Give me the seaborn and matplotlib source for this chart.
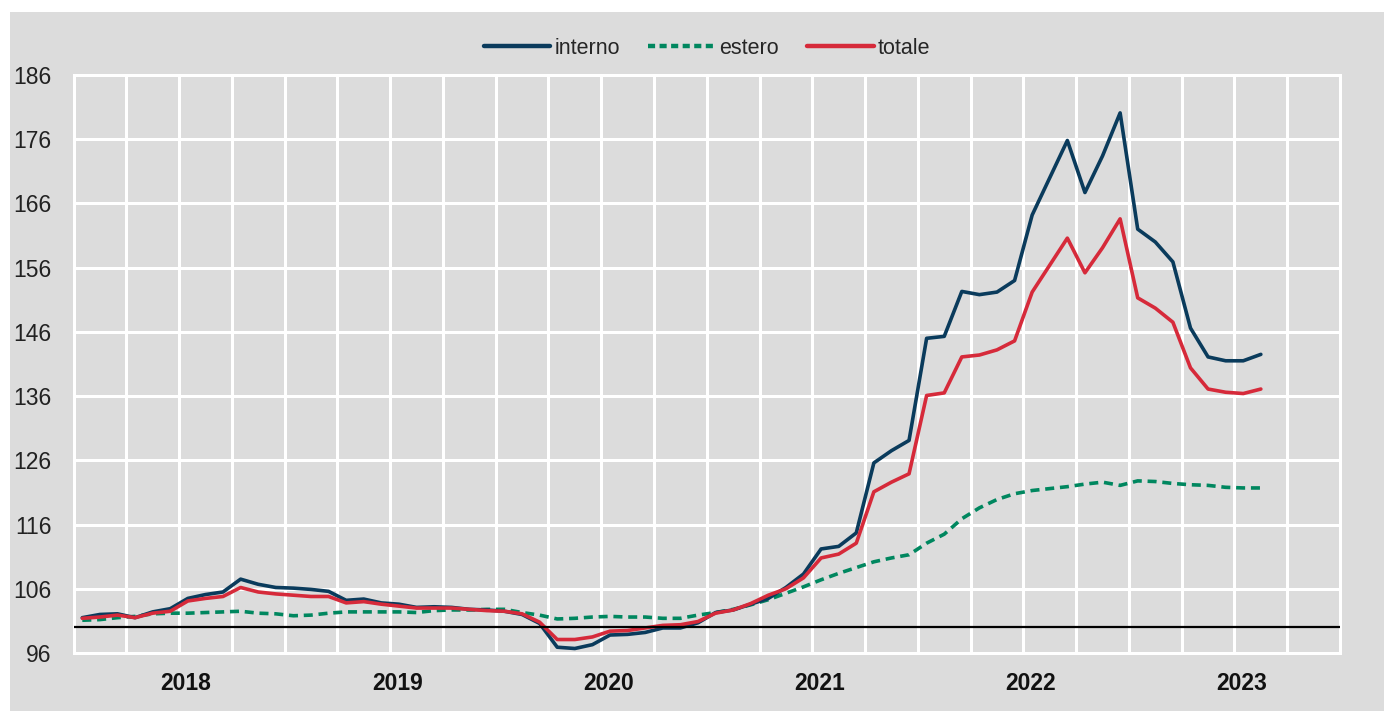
import matplotlib
matplotlib.use("Agg")
import matplotlib.pyplot as plt
from matplotlib.patches import Rectangle
from matplotlib.lines import Line2D
import numpy as np
import pandas as pd
import seaborn as sns

# ---- data (monthly index, Jan 2018 - Aug 2023) ----
interno = [101.5, 102.0, 102.1, 101.5, 102.4, 102.9, 104.5, 105.1, 105.5, 107.5,
           106.7, 106.2, 106.1, 105.9, 105.6, 104.2, 104.4, 103.8, 103.6, 103.1,
           103.2, 103.1, 102.8, 102.7, 102.5, 102.0, 100.6, 96.9, 96.7, 97.3,
           98.8, 98.9, 99.2, 99.9, 99.9, 100.7, 102.3, 102.7, 103.6, 104.5,
           106.2, 108.3, 112.2, 112.6, 114.7, 125.6, 127.5, 129.1, 145.0, 145.3,
           152.3, 151.8, 152.2, 154.0, 164.2, 170.0, 175.8, 167.7, 173.4, 180.1,
           162.0, 160.0, 156.9, 146.6, 142.1, 141.5, 141.5, 142.5]
estero = [101.1, 101.2, 101.5, 101.7, 102.1, 102.2, 102.2, 102.3, 102.4, 102.5,
          102.2, 102.1, 101.8, 101.9, 102.2, 102.4, 102.4, 102.4, 102.4, 102.3,
          102.6, 102.7, 102.7, 102.8, 102.8, 102.3, 101.9, 101.3, 101.4, 101.6,
          101.7, 101.6, 101.6, 101.4, 101.4, 101.9, 102.3, 102.8, 103.5, 104.3,
          105.3, 106.3, 107.4, 108.4, 109.3, 110.2, 110.8, 111.3, 113.1, 114.5,
          116.9, 118.6, 119.9, 120.8, 121.3, 121.6, 121.9, 122.3, 122.6, 122.1,
          122.8, 122.7, 122.4, 122.2, 122.1, 121.8, 121.7, 121.7]
totale = [101.4, 101.6, 101.9, 101.5, 102.2, 102.5, 104.1, 104.5, 104.8, 106.2,
          105.5, 105.2, 105.0, 104.8, 104.8, 103.8, 104.0, 103.6, 103.3, 103.0,
          103.0, 103.0, 102.8, 102.6, 102.5, 102.1, 100.8, 98.1, 98.1, 98.5,
          99.4, 99.5, 99.9, 100.3, 100.4, 100.9, 102.2, 102.7, 103.7, 105.0,
          106.0, 107.7, 110.8, 111.4, 113.1, 121.1, 122.6, 123.9, 136.1, 136.5,
          142.1, 142.4, 143.2, 144.6, 152.2, 156.4, 160.6, 155.2, 159.1, 163.6,
          151.3, 149.7, 147.5, 140.4, 137.1, 136.6, 136.4, 137.1]
years = ["2018", "2019", "2020", "2021", "2022", "2023"]
y_ticks = [96, 106, 116, 126, 136, 146, 156, 166, 176, 186]
series_names = ["interno", "estero", "totale"]
colors = {"interno": "#0A3B5C", "estero": "#00875F", "totale": "#D62A3A"}

# ---- build frame ----
n = len(interno)
xpos = np.arange(n) + 0.5  # month centres; axis unit = 1 month from Jan 2018
df = pd.DataFrame({"x": np.tile(xpos, 3),
                   "value": interno + estero + totale,
                   "serie": np.repeat(series_names, n)})

sns.set_theme(style="white")
plt.rcParams["font.family"] = ["Liberation Sans Narrow", "Liberation Sans", "DejaVu Sans"]

W, H = 1384, 711
fig = plt.figure(figsize=(W / 100, H / 100), dpi=100, facecolor="white")
panel_color = "#DCDCDC"
fig.patches.append(Rectangle((10 / W, 0), 1 - 10 / W, 1 - 12 / H,
                             transform=fig.transFigure, facecolor=panel_color,
                             edgecolor="none", zorder=-10))

ax = fig.add_axes([73.5 / W, 1 - 653 / H, (1340 - 73.5) / W, (653 - 75) / H])
ax.set_facecolor(panel_color)

lw = 2.6
order = [("estero", 2), ("interno", 3), ("totale", 4)]
for name, z in order:
    sub = df[df["serie"] == name]
    sns.lineplot(data=sub, x="x", y="value", ax=ax, color=colors[name],
                 linewidth=lw, zorder=z, legend=False)
    if name == "estero":
        ax.lines[-1].set_dashes((2.5, 1.6))

ax.axhline(100, color="black", linewidth=1.6, zorder=5)

ax.set_xlim(0, 72)
ax.set_ylim(96, 186)
ax.set_yticks(y_ticks)
ax.set_yticklabels([str(v) for v in y_ticks], fontsize=16.5, color="#222222")
ax.set_xticks(np.arange(0, 73, 3))
ax.set_xticklabels([])
ax.set_xticks([12 * k + 6.4 for k in range(len(years))], minor=True)
ax.set_xticklabels(years, minor=True, fontsize=16.5, fontweight="bold", color="#111111")
ax.tick_params(axis="both", which="both", length=0)
ax.tick_params(axis="y", pad=16)
ax.tick_params(axis="x", which="minor", pad=14)
ax.grid(True, which="major", color="white", linewidth=2.2)
ax.set_axisbelow(True)
for s in ax.spines.values():
    s.set_visible(True)
    s.set_color("white")
    s.set_linewidth(2.2)
ax.set_xlabel("")
ax.set_ylabel("")

handles = [Line2D([0], [0], color=colors["interno"], linewidth=3.2),
           Line2D([0], [0], color=colors["estero"], linewidth=3.2, dashes=(1.6, 1.0)),
           Line2D([0], [0], color=colors["totale"], linewidth=3.2)]
fig.legend(handles, series_names, loc="center", bbox_to_anchor=(707 / W, 1 - 48 / H),
           ncol=3, frameon=False, fontsize=15.5, handlelength=3.1, handletextpad=0.2,
           columnspacing=1.3)

fig.savefig("out.png", dpi=100, facecolor="white")
